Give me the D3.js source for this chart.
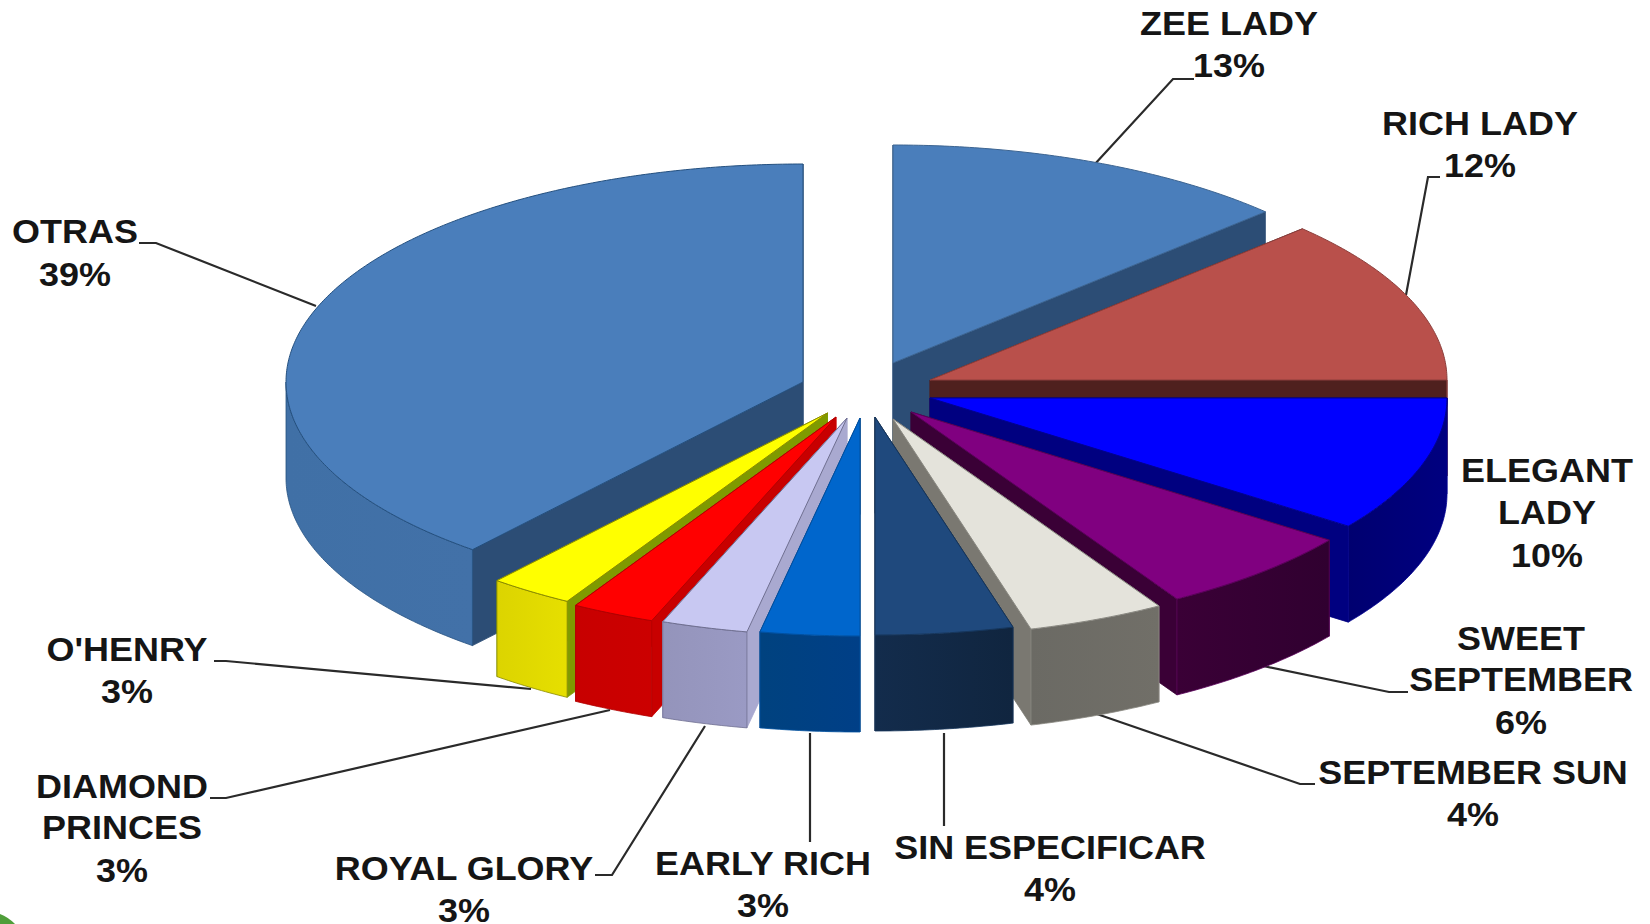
<!DOCTYPE html>
<html><head><meta charset="utf-8">
<script src="https://cdnjs.cloudflare.com/ajax/libs/d3/7.8.5/d3.min.js"></script>
<style>html,body{margin:0;padding:0;background:#fff}svg{display:block}
text{font-family:"Liberation Sans",Arial,sans-serif;font-weight:700;fill:#151515}</style>
</head><body><svg id="c" width="1650" height="924"></svg>
<script>
// Data, clockwise from 12 o'clock
const categories = ["ZEE LADY","RICH LADY","ELEGANT LADY","SWEET SEPTEMBER","SEPTEMBER SUN","SIN ESPECIFICAR","EARLY RICH","ROYAL GLORY","DIAMOND PRINCES","O'HENRY","OTRAS"];
const shareValues = [12.8,12.2,10.0,6.4,4.3,4.3,3.1,2.7,2.6,2.64,38.96];
const percentLabels = ["13%","12%","10%","6%","4%","4%","3%","3%","3%","3%","39%"];
// Styles
const topColors  = ["#4a7ebb","#b9504b","#0000ff","#800080","#e4e3db","#1f497d","#0066cc","#c8c8f2","#ff0000","#ffff00","#4a7ebb"];
const wallColors = ["#2c4d75","#4f201e","#000080","#3a0036","#7a7871","#10253f","#004080","#a9a9d0","#c80000","#7f9a00","#2c4d75"];
const sideColors = [["#2c4d75","#2c4d75"],["#4f201e","#4f201e"],["#000080","#000070"],["#300030","#3a0036"],["#716f68","#6b6a64"],["#10253f","#132c4c"],["#003f87","#00427f"],["#9a9ac4","#9494bb"],["#cc0000","#c80000"],["#e6df00","#dcd400"],["#4271a8","#4070a6"]];
const edgeColors = ["#3c6491","#8c3f3c","#000090","#5a005a","#8a8982","#16365c","#0050a0","#6f6f90","#b00000","#8a8a00","#24507f"];
// Layout of the exploded slices (apex of every slice)
const apexX = [893,930,930,911,893,875,860,847,836,827.5,803];
const apexY = [363,380,398,412,419,417,418,418,417,413,382];
const drawOrder = [10,9,8,7,6,0,1,2,3,4,5];
const radiusX = 517, radiusY = 218, depth = 96;

const svg = d3.select("#c");
const defs = svg.append("defs");
const arcs = d3.pie().sort(null).value(d=>d).startAngle(0).endAngle(2*Math.PI)(shareValues);
const xUnit = d3.scaleLinear().domain([-1,1]).range([-radiusX,radiusX]);
const yUnit = d3.scaleLinear().domain([-1,1]).range([-radiusY,radiusY]);
const px = (i,a)=>apexX[i]+xUnit(Math.sin(a));
const py = (i,a)=>apexY[i]-yUnit(Math.cos(a));
const line = d3.line().x(d=>d[0]).y(d=>d[1]);
function arcPts(i,a0,a1,dy=0){
  const n=Math.max(2,Math.ceil(Math.abs(a1-a0)/0.01));
  return d3.range(n+1).map(k=>{const a=a0+(a1-a0)*k/n;return [px(i,a),py(i,a)+dy];});
}
// leader lines are under the pie
const leaders = [
 [[1194,79],[1173,79],[1094,165]],
 [[1440,177],[1428,177],[1406,295]],
 [[1408,692],[1389,692],[1263,666]],
 [[1315,784],[1300,784],[1094,713]],
 [[944,826],[944,733]],
 [[810,842],[810,733]],
 [[595,875],[612,875],[705,726]],
 [[210,798],[226,798],[610,710]],
 [[214,661],[226,661],[531,689]],
 [[139,243],[156,243],[316,306]]
];
svg.append("g").selectAll("path").data(leaders).join("path")
  .attr("d",d=>line(d)).attr("fill","none").attr("stroke","#2a2a2a").attr("stroke-width",2.2);

const pi=Math.PI;
drawOrder.forEach(i=>{
  const {startAngle:a0,endAngle:a1}=arcs[i];
  const g=svg.append("g");
  const cx=apexX[i], cy=apexY[i];
  // radial walls
  [a0,a1].forEach(a=>{
    const tip=[px(i,a),py(i,a)];
    g.append("path").attr("d",line([[cx,cy],tip,[tip[0],tip[1]+depth],[cx,cy+depth]])+"Z")
     .attr("fill",wallColors[i]).attr("stroke",wallColors[i]).attr("stroke-width",.8);
  });
  // outer curved wall
  const s=Math.max(a0,pi/2), e=Math.min(a1,3*pi/2);
  if(e>s){
    const id="side"+i;
    const gr=defs.append("linearGradient").attr("id",id).attr("gradientUnits","userSpaceOnUse")
      .attr("x1",px(i,s)).attr("x2",px(i,e)).attr("y1",0).attr("y2",0);
    gr.append("stop").attr("offset",0).attr("stop-color",sideColors[i][0]);
    gr.append("stop").attr("offset",1).attr("stop-color",sideColors[i][1]);
    const pts=arcPts(i,s,e).concat(arcPts(i,e,s,depth));
    g.append("path").attr("d",line(pts)+"Z").attr("fill",`url(#${id})`)
      .attr("stroke",edgeColors[i]).attr("stroke-width",.8);
  }
  // top
  g.append("path").attr("d",line([[cx,cy],...arcPts(i,a0,a1)])+"Z")
    .attr("fill",topColors[i]).attr("stroke",edgeColors[i]).attr("stroke-width",1);
});

// labels: centre x, centre y for every line
const labelLayout = [
 {i:0,x:1229,ys:[23,65]},
 {i:1,x:1480,ys:[123,165],lines:["RICH LADY"]},
 {i:2,x:1547,ys:[470,512,555],lines:["ELEGANT","LADY"]},
 {i:3,x:1521,ys:[638,679,722],lines:["SWEET","SEPTEMBER"]},
 {i:4,x:1473,ys:[772,814]},
 {i:5,x:1050,ys:[847,889]},
 {i:6,x:763,ys:[863,905],lines:["EARLY RICH"]},
 {i:7,x:464,ys:[868,910]},
 {i:8,x:122,ys:[786,827,870],lines:["DIAMOND","PRINCES"]},
 {i:9,x:127,ys:[649,691]},
 {i:10,x:75,ys:[231,274]}
];
const labelG=svg.append("g");
labelLayout.forEach(l=>{
  const ls=(l.lines||[categories[l.i]]).concat([percentLabels[l.i]]);
  ls.forEach((t,k)=>{
    labelG.append("text").text(t)
      .attr("transform",`translate(${l.x},${l.ys[k]+12}) scale(1.09,1)`)
      .attr("text-anchor","middle").attr("font-size",33);
  });
});
// green corner of the slide background
svg.append("path").attr("d","M0,914 Q8,917 15,924 L0,924Z").attr("fill","#4f9e3a");
</script></body></html>
